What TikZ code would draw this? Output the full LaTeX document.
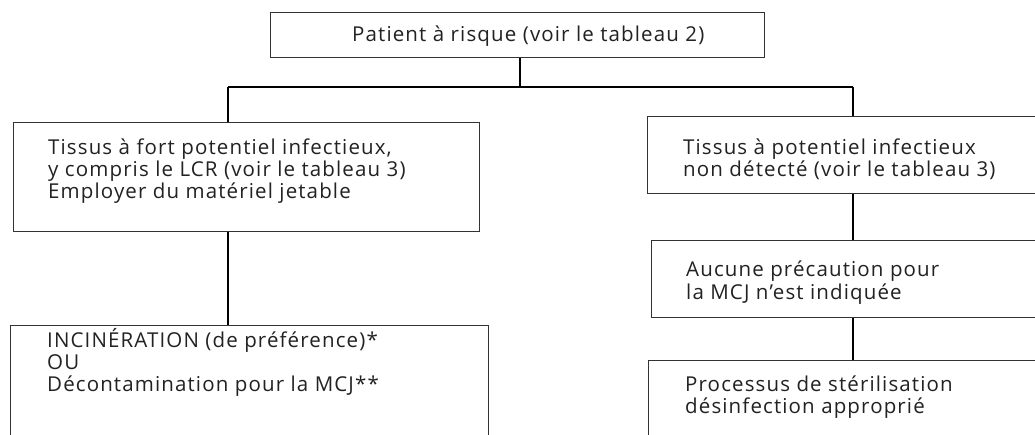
\documentclass[tikz,border=0pt]{standalone}
\usepackage{fontspec}
\setmainfont[LetterSpace=5.5]{Open Sans}
\definecolor{ink}{HTML}{222222}
\definecolor{frame}{HTML}{333333}
\begin{document}
\begin{tikzpicture}[x=1pt,y=-1pt,
  box/.style={draw=frame,line width=1.1pt,rectangle,inner sep=0pt,anchor=north west},
  txt/.style={text=ink,inner sep=0pt,anchor=base west,align=left,font=\fontsize{20.5}{22}\selectfont},
  link/.style={draw=black,line width=2pt}]
\useasboundingbox[fill=white] (0,0) rectangle (1035,435);
% boxes
\node[box,minimum width=494pt,minimum height=45pt] (top) at (270,12) {};
\node[box,minimum width=466pt,minimum height=109pt] (hl) at (13,122) {};
\node[box,minimum width=453pt,minimum height=77pt] (nd) at (647,116) {};
\node[box,minimum width=449pt,minimum height=77pt] (ap) at (651,240) {};
\node[box,minimum width=478pt,minimum height=145pt] (inc) at (10,325) {};
\node[box,minimum width=452pt,minimum height=110pt] (st) at (648,360) {};
% texts
\node[txt] (topt) at (352,42) {Patient à risque (voir le tableau 2)};
\node[txt] (hlt) at (48,199) {Tissus à fort potentiel infectieux,\\y compris le LCR (voir le tableau 3)\\Employer du matériel jetable};
\node[txt] (ndt) at (683,177) {Tissus à potentiel infectieux\\non détecté (voir le tableau 3)};
\node[txt] (apt) at (686,299) {Aucune précaution pour\\la MCJ n’est indiquée};
\node[txt] (inct) at (47,391) {INCINÉRATION (de préférence)*\\OU\\Décontamination pour la MCJ**};
\node[txt] (stt) at (685,413) {Processus de stérilisation\\désinfection approprié};
% connectors
\coordinate (jL) at (228,87);
\coordinate (jR) at (853,87);
\draw[link] (top.south -| 520,0) -- (520,87);
\draw[link] (jL) -- (jR);
\draw[link] (jL) -- (jL |- hl.north);
\draw[link] (jR) -- (jR |- nd.north);
\draw[link] (hl.south -| jL) -- (jL |- inc.north);
\draw[link] (nd.south -| jR) -- (jR |- ap.north);
\draw[link] (ap.south -| jR) -- (jR |- st.north);
\end{tikzpicture}
\end{document}
